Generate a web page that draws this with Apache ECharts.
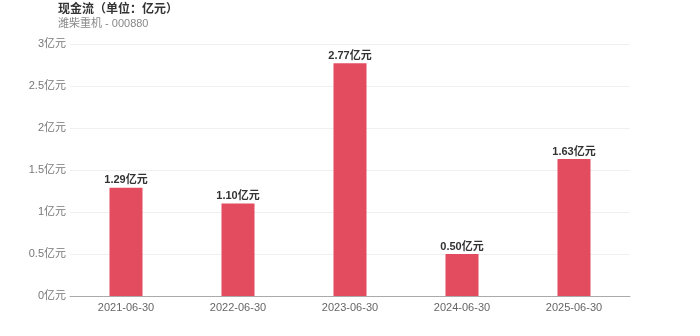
<!DOCTYPE html>
<html><head><meta charset="utf-8">
<script src="https://cdn.jsdelivr.net/npm/echarts@6/dist/echarts.min.js"></script>
<style>html,body{margin:0;padding:0;background:#fff}#c{width:700px;height:336px}</style>
</head><body><div id="c"></div>
<script>
const categories = ['2021-06-30','2022-06-30','2023-06-30','2024-06-30','2025-06-30'];
const values = [1.29, 1.10, 2.77, 0.50, 1.63];
const yTicks = [0, 0.5, 1, 1.5, 2, 2.5, 3];
const titleText = '现金流（单位：亿元）';
const subText = '潍柴重机 - 000880';
const font = '"Liberation Sans", "Noto Sans CJK SC", sans-serif';
const chart = echarts.init(document.getElementById('c'));
chart.setOption({
  animation: false,
  textStyle: {fontFamily: font},
  title: {
    text: titleText, subtext: subText, left: 53, top: -1,
    textStyle: {fontSize: 12, fontWeight: 'bold', color: '#333', fontFamily: font},
    subtextStyle: {fontSize: 11, color: '#888', fontFamily: font},
    itemGap: 2
  },
  grid: {left: 70, right: 70, top: 44, bottom: 40},
  xAxis: {
    type: 'category', data: categories,
    axisLine: {lineStyle: {color: '#aaa'}},
    axisTick: {show: false},
    axisLabel: {color: '#666', fontSize: 11, margin: 6}
  },
  yAxis: {
    type: 'value', min: yTicks[0], max: yTicks[yTicks.length-1], interval: 0.5,
    axisLine: {show: false}, axisTick: {show: false},
    axisLabel: {color: '#777', fontSize: 11, margin: 4, formatter: v => v + '亿元'},
    splitLine: {lineStyle: {color: '#f0f0f0'}}
  },
  series: [{
    type: 'bar', data: values, barWidth: 33,
    itemStyle: {color: '#e34b5f'},
    label: {show: true, position: 'top', fontSize: 11, fontWeight: 'bold', color: '#333',
      formatter: p => p.value.toFixed(2) + '亿元', distance: 2}
  }]
});
</script></body></html>
